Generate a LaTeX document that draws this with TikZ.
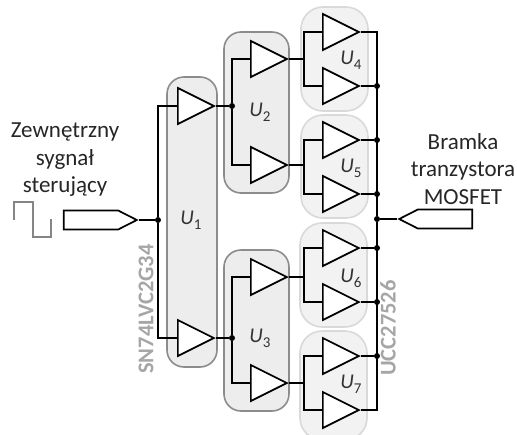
\documentclass[tikz,border=0pt]{standalone}
\usepackage{fontspec}
\setmainfont{Carlito}
\usepackage{tikz}
\usetikzlibrary{shapes.geometric}
\usetikzlibrary{shapes.symbols}
\definecolor{groupfill}{HTML}{EDEDED}
\definecolor{groupline}{HTML}{8C8C8C}
\definecolor{subfill}{HTML}{F2F2F2}
\definecolor{subline}{HTML}{D9D9D9}
\definecolor{partgray}{HTML}{A6A6A6}
\tikzset{
	buffer/.style={draw, fill=white, line width=1.7pt, isosceles triangle, isosceles triangle stretches, shape border rotate=0, minimum width=36pt, minimum height=36pt, inner sep=0pt, anchor=west},
	dot/.style={circle, fill=black, inner sep=0pt, minimum size=6pt},
	wire/.style={line width=1.7pt},
	groupbox/.style={draw=groupline, fill=groupfill, line width=1.6pt, rounded corners=17pt},
	subbox/.style={draw=subline, fill=subfill, line width=1.6pt, rounded corners=22pt},
	port/.style={draw, fill=white, line width=1.7pt, signal, signal pointer angle=54, minimum width=73pt, minimum height=19pt, inner sep=0pt},
	unitlabel/.style={font=\fontsize{21}{21}\selectfont\itshape, text=black!80},
	saidlabel/.style={font=\fontsize{23}{27.5}\selectfont, align=center, text=black!85},
	partlabel/.style={font=\fontsize{22.5}{22.5}\selectfont\bfseries, text=partgray, rotate=90}
}
\newcommand{\unitname}[1]{U\raisebox{-0.25em}{\fontsize{15}{15}\selectfont\upshape #1}}
\begin{document}
\begin{tikzpicture}[x=1pt,y=-1pt]
	\useasboundingbox (0,0) rectangle (517,434);
	% Group Boxes %
	\draw [groupbox] (167,77) rectangle (217,367);
	\draw [groupbox] (224,32) rectangle (289,193);
	\draw [groupbox] (224,250) rectangle (289,411);
	\draw [subbox] (301,7) rectangle (368,111);
	\draw [subbox] (301,115) rectangle (368,218);
	\draw [subbox] (300,223) rectangle (367,327);
	\draw [subbox] (300,331) rectangle (367,440);
	% Buffers %
	\node [buffer] (buf1a) at (177,106) {};
	\node [buffer] (buf1b) at (177,338) {};
	\node [buffer] (buf2a) at (250,59) {};
	\node [buffer] (buf2b) at (250,165) {};
	\node [buffer] (buf3a) at (250,277) {};
	\node [buffer] (buf3b) at (250,383) {};
	\foreach \n/\y in {4a/32, 4b/86, 5a/140, 5b/194, 6a/248, 6b/302, 7a/356, 7b/410}
		\node [buffer] (buf\n) at (322,\y) {};
	% Ports %
	\node [port, signal to=east] (portin) at (91,220) {};
	\node [port, signal to=west] (portout) at (445,219) {};
	% Junctions %
	\node [dot] (jin) at (158,220) {};
	\node [dot] (j2) at (232,106) {};
	\node [dot] (j3) at (232,338) {};
	\node [dot] (jout) at (377,219) {};
	\foreach \n/\y in {4b/86, 5a/140, 5b/194, 6a/248, 6b/302, 7a/356}
		\node [dot] (j\n) at (377,\y) {};
	\coordinate (fork4) at (304,59);
	\coordinate (fork5) at (304,165);
	\coordinate (fork6) at (304,277);
	\coordinate (fork7) at (304,383);
	% Wires %
	\draw [wire] (portin.east) -- (jin);
	\draw [wire] (buf1a.west) -| (jin);
	\draw [wire] (buf1b.west) -| (jin);
	\draw [wire] (buf1a.east) -- (j2);
	\draw [wire] (buf1b.east) -- (j3);
	\draw [wire] (buf2a.west) -| (j2);
	\draw [wire] (buf2b.west) -| (j2);
	\draw [wire] (buf3a.west) -| (j3);
	\draw [wire] (buf3b.west) -| (j3);
	\foreach \a/\f in {2a/4, 2b/5, 3a/6, 3b/7}
		\draw [wire] (buf\a.east) -- (fork\f);
	\foreach \n/\f in {4a/4, 4b/4, 5a/5, 5b/5, 6a/6, 6b/6, 7a/7, 7b/7}
		\draw [wire] (buf\n.west) -| (fork\f);
	\draw [wire] (buf4a.east) -| (jout);
	\draw [wire] (buf7b.east) -| (jout);
	\foreach \n in {4b, 5a, 5b, 6a, 6b, 7a}
		\draw [wire] (buf\n.east) -- (j\n);
	\draw [wire] (jout) -- (portout.west);
	% Square Wave %
	\draw [partgray!80!black, line width=1.7pt] (14,220) -- (14,202) -- (33,202) -- (33,237) -- (51,237) -- (51,219);
	% Labels %
	\node [saidlabel] (extlabel) at (65,160) {Zewnętrzny\\sygnał\\sterujący};
	\node [saidlabel] (gatelabel) at (463,169) {Bramka\\tranzystora\\MOSFET};
	\node [unitlabel] (u1) at (191,220) {\unitname{1}};
	\node [unitlabel] (u2) at (260,112) {\unitname{2}};
	\node [unitlabel] (u3) at (260,338) {\unitname{3}};
	\node [unitlabel] (u4) at (351,60) {\unitname{4}};
	\node [unitlabel] (u5) at (351,168) {\unitname{5}};
	\node [unitlabel] (u6) at (351,278) {\unitname{6}};
	\node [unitlabel] (u7) at (351,384) {\unitname{7}};
	\node [partlabel] (drvone) at (146,309) {SN74LVC2G34};
	\node [partlabel] (drvtwo) at (388,328) {UCC27526};
\end{tikzpicture}
\end{document}
